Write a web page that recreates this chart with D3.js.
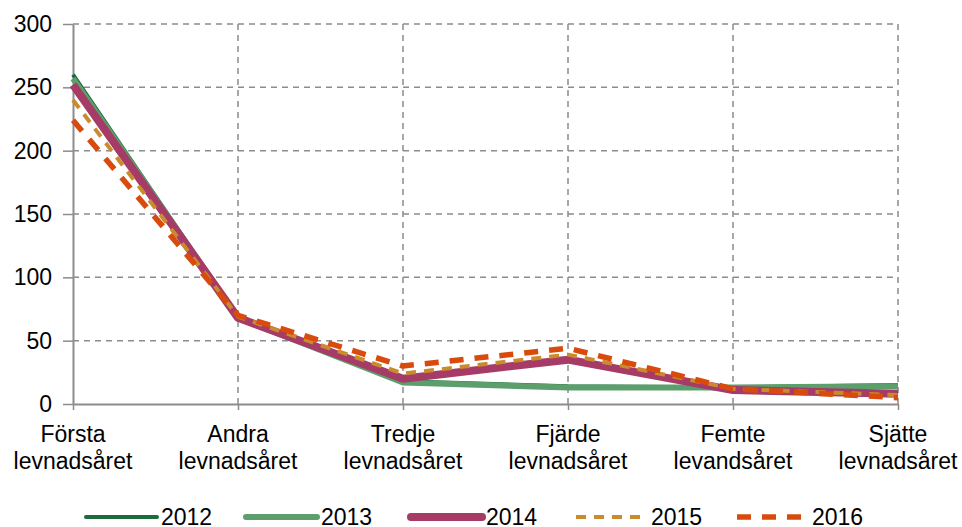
<!DOCTYPE html>
<html>
<head>
  <meta charset="utf-8">
  <script src="https://d3js.org/d3.v7.min.js"></script>
  <style>
    body { margin: 0; background: #fff; }
    svg { display: block; }
    text { font-family: "Liberation Sans", Arial, sans-serif; fill: #000; }
  </style>
</head>
<body>
<script>
  // categories (two-line labels)
  var categories = ["Första levnadsåret", "Andra levnadsåret", "Tredje levnadsåret",
    "Fjärde levnadsåret", "Femte levandsåret", "Sjätte levnadsåret"];
  var yTicks = [0, 50, 100, 150, 200, 250, 300];

  var years = ["2012", "2013", "2014", "2015", "2016"];
  var v2012 = [260, 68, 18, 14, 13, 15];
  var v2013 = [257, 68, 17, 13, 13, 14];
  var v2014 = [252, 68, 20, 35, 11, 8];
  var v2015 = [240, 69, 24, 39, 12, 7];
  var v2016 = [224, 70, 30, 44, 12, 5];

  var series = [
    {name: years[0], values: v2012, color: "#1b6b3d", width: 4, dash: null},
    {name: years[1], values: v2013, color: "#5c9f6c", width: 6, dash: null},
    {name: years[2], values: v2014, color: "#a53b66", width: 8, dash: null},
    {name: years[3], values: v2015, color: "#c98b2b", width: 4, dash: "10,8"},
    {name: years[4], values: v2016, color: "#d94b0c", width: 5.5, dash: "14,11"}
  ];

  (function () {
    var W = 962, H = 527;
    var mLeft = 73, mRight = 898, mTop = 24, mBottom = 404;

    var svg = d3.select("body").append("svg")
      .attr("width", W).attr("height", H);

    var x = d3.scalePoint().domain(categories).range([mLeft, mRight]);
    var y = d3.scaleLinear().domain([0, 300]).range([mBottom, mTop]);

    // gridlines
    svg.selectAll(".hgrid")
      .data(yTicks.filter(function (d) { return d > 0; }))
      .enter().append("line")
        .attr("x1", mLeft).attr("x2", mRight)
        .attr("y1", function (d) { return y(d); })
        .attr("y2", function (d) { return y(d); })
        .attr("stroke", "#8c8c8c").attr("stroke-width", 1.5)
        .attr("stroke-dasharray", "6,5");

    svg.selectAll(".vgrid")
      .data(categories.slice(1))
      .enter().append("line")
        .attr("x1", function (d) { return x(d); })
        .attr("x2", function (d) { return x(d); })
        .attr("y1", mTop).attr("y2", mBottom)
        .attr("stroke", "#8c8c8c").attr("stroke-width", 1.5)
        .attr("stroke-dasharray", "6,5");

    // axes
    var yAxis = svg.append("g").attr("transform", "translate(" + mLeft + ",0)")
      .call(d3.axisLeft(y).tickValues(yTicks).tickSize(10).tickSizeOuter(0).tickFormat(""));
    var xAxis = svg.append("g").attr("transform", "translate(0," + mBottom + ")")
      .call(d3.axisBottom(x).tickSize(6).tickSizeOuter(0).tickFormat(""));

    [yAxis, xAxis].forEach(function (g) {
      g.select(".domain").attr("stroke", "#8c8c8c").attr("stroke-width", 2);
      g.selectAll(".tick line").attr("stroke", "#8c8c8c").attr("stroke-width", 1.5);
      g.selectAll(".tick text").remove();
    });

    // y labels
    svg.selectAll(".ylab")
      .data(yTicks)
      .enter().append("text")
        .attr("x", 52)
        .attr("y", function (d) { return y(d) + 8; })
        .attr("text-anchor", "end")
        .style("font-size", "23px")
        .text(function (d) { return d; });

    // x labels
    var xl = svg.selectAll(".xlab")
      .data(categories)
      .enter().append("g")
        .attr("transform", function (d) { return "translate(" + x(d) + ",0)"; });
    xl.each(function (d) {
      var parts = d.split(" ");
      var g = d3.select(this);
      parts.forEach(function (p, i) {
        g.append("text")
          .attr("y", 442 + i * 27)
          .attr("text-anchor", "middle")
          .style("font-size", "23px")
          .text(p);
      });
    });

    // lines
    var line = d3.line()
      .x(function (d, i) { return x(categories[i]); })
      .y(function (d) { return y(d); });

    svg.selectAll(".series")
      .data(series)
      .enter().append("path")
        .attr("d", function (d) { return line(d.values); })
        .attr("fill", "none")
        .attr("stroke", function (d) { return d.color; })
        .attr("stroke-width", function (d) { return d.width; })
        .attr("stroke-dasharray", function (d) { return d.dash; })
        .attr("stroke-linejoin", "round");

    // legend
    var legX = [86, 246, 411, 576, 737];
    var leg = svg.selectAll(".leg")
      .data(series)
      .enter().append("g")
        .attr("transform", function (d, i) { return "translate(" + legX[i] + ",517)"; });
    leg.append("line")
      .attr("x1", 0).attr("x2", 71)
      .attr("stroke", function (d) { return d.color; })
      .attr("stroke-width", function (d) { return d.width; })
      .attr("stroke-dasharray", function (d) { return d.dash; })
      .attr("stroke-linecap", function (d) { return d.dash ? "butt" : "round"; });
    leg.append("text")
      .attr("x", 75)
      .attr("y", 8)
      .style("font-size", "23px")
      .text(function (d) { return d.name; });
  })();
</script>
</body>
</html>
